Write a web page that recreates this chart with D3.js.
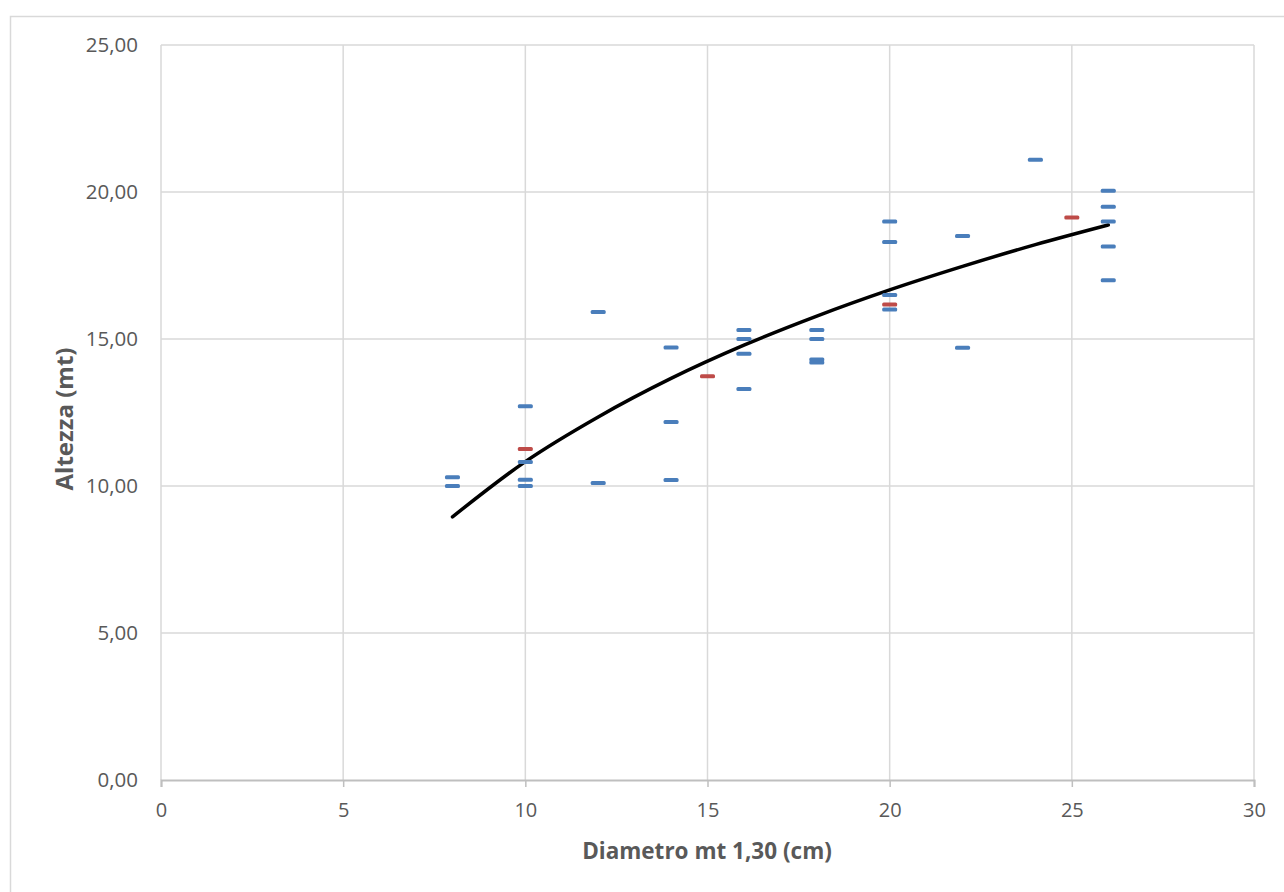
<!DOCTYPE html>
<html>
<head>
<meta charset="utf-8">
<script src="https://cdn.jsdelivr.net/npm/d3@7/dist/d3.min.js"></script>
<style>
  html, body { margin: 0; padding: 0; background: #fff; }
  svg { display: block; }
  text { font-family: "Open Sans", "Noto Sans", sans-serif; }
</style>
</head>
<body>
<svg id="chart" width="1284" height="892"></svg>
<script>
// Measured trees: diameter at 1.30 m (cm) and height (m)
const diamBlue = [8, 8, 10, 10, 10, 10, 12, 12, 14, 14, 14, 16, 16, 16, 16, 18, 18, 18, 18, 20, 20, 20, 20, 22, 22, 24, 26, 26, 26, 26, 26];
const altBlue  = [10.30, 10.00, 12.71, 10.82, 10.21, 10.00, 15.92, 10.10, 14.71, 12.18, 10.20, 15.31, 15.00, 14.50, 13.30, 15.31, 15.00, 14.30, 14.20, 19.00, 18.30, 16.50, 16.00, 18.50, 14.70, 21.10, 20.04, 19.50, 19.00, 18.15, 17.00];

// Class averages
const diamRed = [10, 15, 20, 25];
const altRed  = [11.26, 13.73, 16.17, 19.13];

// Fitted height curve, sampled along the diameter range
const curveDiam = [8, 10, 12, 14, 16, 18, 20, 22, 24, 26];
const curveAlt  = [8.95, 10.83, 12.35, 13.66, 14.79, 15.78, 16.67, 17.47, 18.21, 18.88];

const xTicks = [0, 5, 10, 15, 20, 25, 30];
const yTicks = [0, 5, 10, 15, 20, 25];

const svg = d3.select("#chart");

const plotLeft = 161, plotRight = 1254, plotTop = 45, plotBottom = 780;
const x = d3.scaleLinear().domain([0, 30]).range([plotLeft, plotRight]);
const y = d3.scaleLinear().domain([0, 25]).range([plotBottom, plotTop]);

// Chart area frame
svg.append("rect")
  .attr("x", 10.5).attr("y", 16.5)
  .attr("width", 1300).attr("height", 900)
  .attr("fill", "#fff").attr("stroke", "#d9d9d9").attr("stroke-width", 1.5);

// Gridlines
const grid = svg.append("g");
grid.selectAll("line.h").data(yTicks.filter(d => d > 0)).join("line")
  .attr("class", "h")
  .attr("x1", plotLeft).attr("x2", plotRight)
  .attr("y1", d => y(d)).attr("y2", d => y(d))
  .attr("stroke", "#d9d9d9").attr("stroke-width", 1.5);
grid.selectAll("line.v").data(xTicks).join("line")
  .attr("class", "v")
  .attr("y1", plotTop).attr("y2", plotBottom)
  .attr("x1", d => x(d)).attr("x2", d => x(d))
  .attr("stroke", "#d9d9d9").attr("stroke-width", 1.5);

// X axis
const xAxis = d3.axisBottom(x).tickValues(xTicks).tickSize(7).tickPadding(16)
  .tickFormat(d3.format("d"));
const gx = svg.append("g").attr("transform", `translate(0,${plotBottom})`).call(xAxis);
gx.select(".domain").attr("stroke", "#bfbfbf").attr("stroke-width", 2);
gx.selectAll(".tick line").attr("stroke", "#bfbfbf").attr("stroke-width", 1.5);
gx.selectAll(".tick text").attr("fill", "#595959").style("font-size", "20px");

// Y axis (labels only)
const fmtIt = d => d.toFixed(2).replace(".", ",");
const yAxis = d3.axisLeft(y).tickValues(yTicks).tickSize(0).tickPadding(23).tickFormat(fmtIt);
const gy = svg.append("g").attr("transform", `translate(${plotLeft},0)`).call(yAxis);
gy.select(".domain").remove();
gy.selectAll(".tick text").attr("fill", "#595959").style("font-size", "20.5px");

// Fitted curve
const line = d3.line().x(d => x(d[0])).y(d => y(d[1])).curve(d3.curveMonotoneX);
svg.append("path")
  .datum(d3.zip(curveDiam, curveAlt))
  .attr("d", line)
  .attr("fill", "none").attr("stroke", "#000").attr("stroke-width", 3.5)
  .attr("stroke-linecap", "round");

// Dash markers
function dashes(xs, ys, color) {
  svg.append("g").selectAll("rect").data(d3.zip(xs, ys)).join("rect")
    .attr("x", d => x(d[0]) - 7.5).attr("y", d => y(d[1]) - 2)
    .attr("width", 15).attr("height", 4).attr("rx", 1.5)
    .attr("fill", color);
}
dashes(diamBlue, altBlue, "#4a7ebb");
dashes(diamRed, altRed, "#be4b48");

// Axis titles
svg.append("text")
  .attr("x", 707).attr("y", 859)
  .attr("text-anchor", "middle")
  .attr("fill", "#595959").style("font-size", "22.5px").style("font-weight", "bold")
  .text("Diametro mt 1,30 (cm)");

svg.append("text")
  .attr("transform", "translate(73,419) rotate(-90)")
  .attr("text-anchor", "middle")
  .attr("fill", "#595959").style("font-size", "24px").style("font-weight", "bold")
  .text("Altezza (mt)");
</script>
</body>
</html>
